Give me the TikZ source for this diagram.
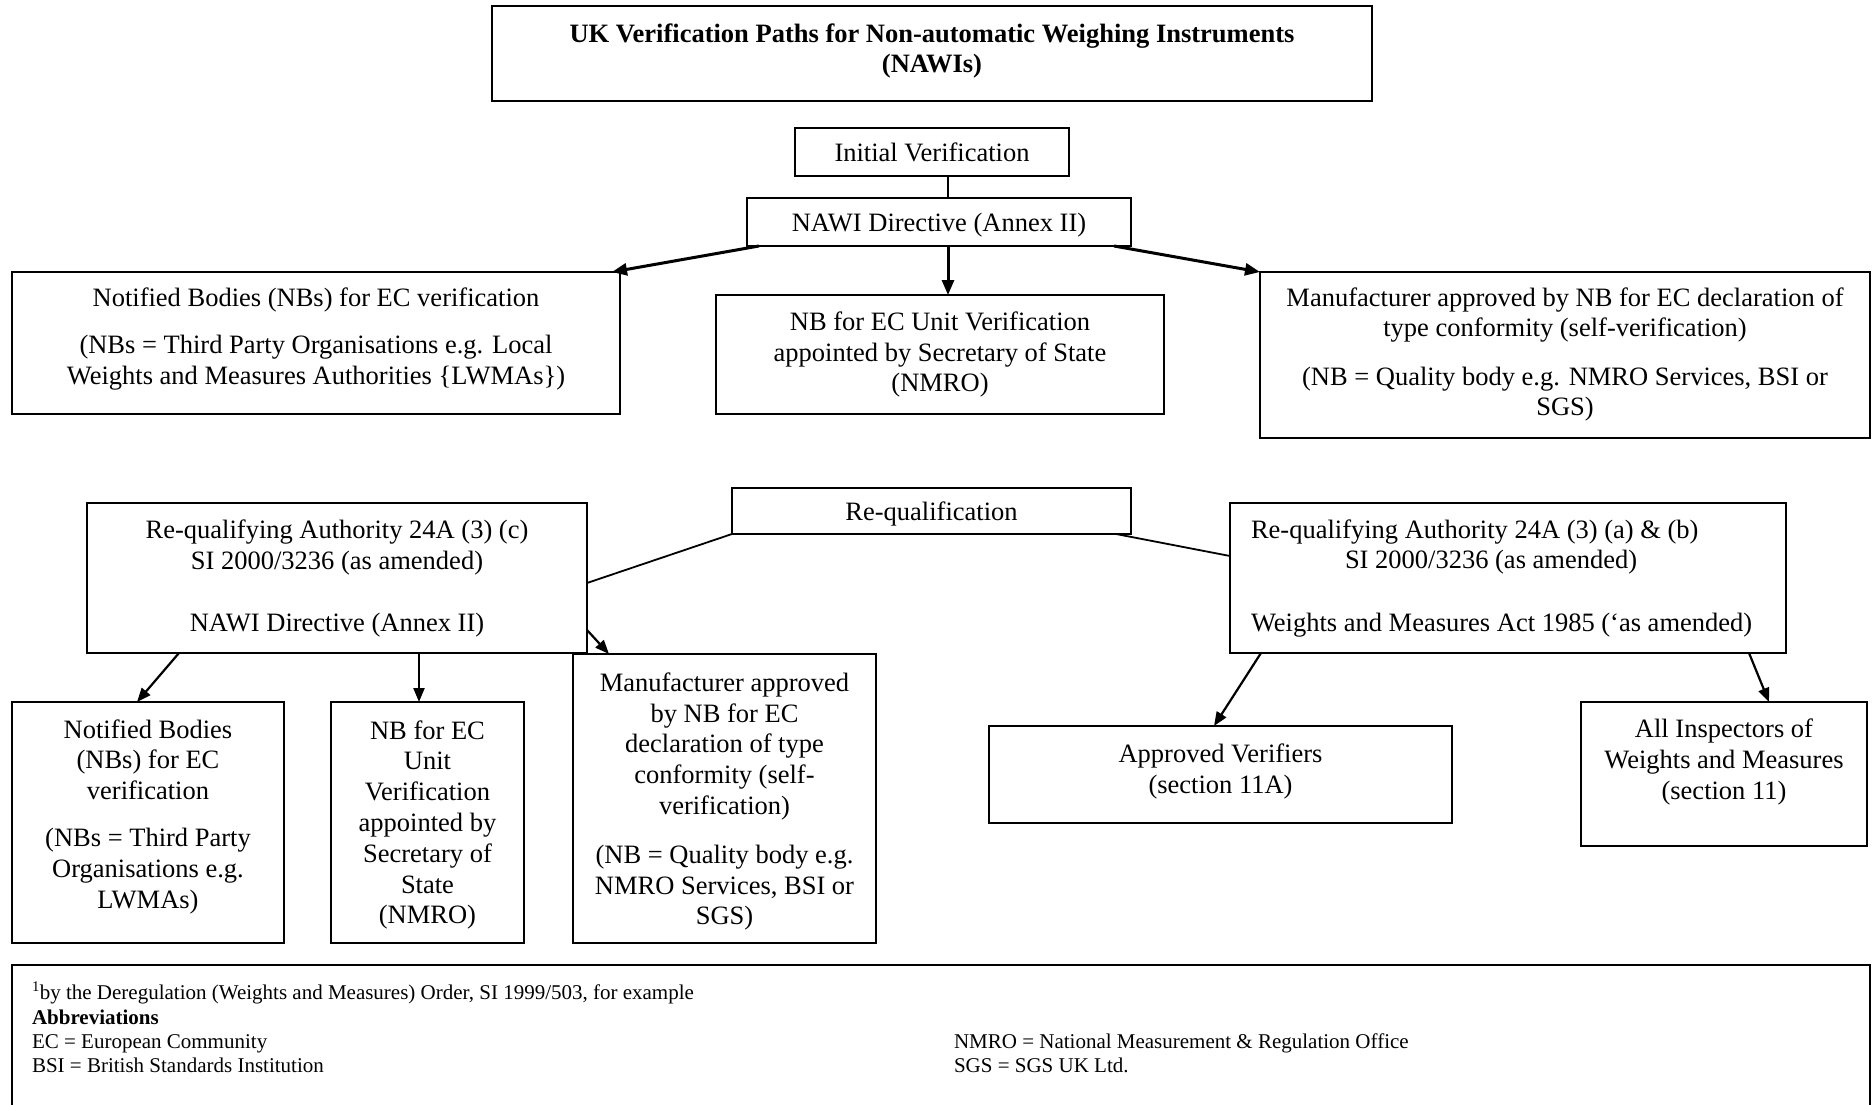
\documentclass[tikz,border=0pt]{standalone}
\usepackage{fontspec}
\setmainfont{Liberation Serif}
\usetikzlibrary{arrows.meta,calc}
\tikzset{
  box/.style={draw, line width=1.8pt, inner sep=0pt, outer sep=0pt},
  txt/.style={align=center, inner sep=0pt, outer sep=0pt, font=\fontsize{26.5}{30.8}\selectfont},
  onetxt/.style={txt, text height=18pt, text depth=0pt},
  ftxt/.style={anchor=base west, inner sep=0pt, outer sep=0pt, font=\fontsize{21}{24}\selectfont},
  arr/.style={-{Triangle[length=14pt,width=11pt]}, line width=2.2pt},
  thickarr/.style={-{Triangle[length=15pt,width=12pt]}, line width=3pt},
  ln/.style={line width=1.8pt}
}
\begin{document}
\begin{tikzpicture}[x=1pt,y=-1pt]
\useasboundingbox (0,0) rectangle (1872,1105);
% boxes
\node[box, minimum width=880, minimum height=95] (title) at (932,53.5) {};
\node[txt, font=\fontsize{26.5}{30}\selectfont\bfseries] (ttitle) at (932,51) {UK Verification Paths for Non-automatic Weighing Instruments\\(NAWIs)};
\node[box, onetxt, minimum width=274, minimum height=48] (init) at (932,152) {Initial Verification};
\node[box, onetxt, minimum width=384, minimum height=48] (nawi) at (939,222) {NAWI Directive (Annex II)};
\node[box, minimum width=608, minimum height=142] (nb1) at (316,343) {};
\node[txt] (tnb1) at (316,339) {Notified Bodies (NBs) for EC verification\\[16.5pt](NBs = Third Party Organisations e.g. Local\\Weights and Measures Authorities \{LWMAs\})};
\node[box, minimum width=448, minimum height=119] (nbu) at (940,354.5) {};
\node[txt] (tnbu) at (940,354.5) {NB for EC Unit Verification\\appointed by Secretary of State\\(NMRO)};
\node[box, minimum width=610, minimum height=166] (man) at (1565,355) {};
\node[txt] (tman) at (1565,354.5) {Manufacturer approved by NB for EC declaration of\\type conformity (self-verification)\\[17.5pt](NB = Quality body e.g. NMRO Services, BSI or\\SGS)};
\node[box, onetxt, minimum width=399, minimum height=46] (req) at (931.5,511) {Re-qualification};
\node[box, minimum width=500, minimum height=150] (rac) at (337,578) {};
\node[txt] (trac) at (337,578.5) {Re-qualifying Authority 24A (3) (c)\\SI 2000/3236 (as amended)\\[32pt]NAWI Directive (Annex II)};
\node[box, minimum width=556, minimum height=150] (rab) at (1508,578) {};
\node[txt, align=left, anchor=west] (trab) at (1251,578.5) {Re-qualifying Authority 24A (3) (a) \& (b)\\\hspace*{94pt}SI 2000/3236 (as amended)\\[32pt]Weights and Measures Act 1985 (‘as amended)};
\node[box, minimum width=272, minimum height=241] (nbl) at (148,822.5) {};
\node[txt] (tnbl) at (148,816.5) {Notified Bodies\\(NBs) for EC\\verification\\[16pt](NBs = Third Party\\Organisations e.g.\\LWMAs)};
\node[box, minimum width=193, minimum height=241] (nbul) at (427.5,822.5) {};
\node[txt] (tnbul) at (427.5,825) {NB for EC\\Unit\\Verification\\appointed by\\Secretary of\\State\\(NMRO)};
\node[box, minimum width=303, minimum height=289] (manl) at (724.5,798.5) {};
\node[txt] (tmanl) at (724.5,801.5) {Manufacturer approved\\by NB for EC\\declaration of type\\conformity (self-\\verification)\\[18pt](NB = Quality body e.g.\\NMRO Services, BSI or\\SGS)};
\node[box, minimum width=463, minimum height=97] (av) at (1220.5,774.5) {};
\node[txt] (tav) at (1220.5,771.5) {Approved Verifiers\\(section 11A)};
\node[box, minimum width=286, minimum height=144] (ai) at (1724,774) {};
\node[txt] (tai) at (1724,762) {All Inspectors of\\Weights and Measures\\(section 11)};
% footer
\node[box, minimum width=1858, minimum height=165] (foot) at (941,1047.5) {};
\node[ftxt] (f1) at (32,999) {\textsuperscript{1}by the Deregulation (Weights and Measures) Order, SI 1999/503, for example};
\node[ftxt, font=\fontsize{21}{24}\selectfont\bfseries] (f2) at (32,1024) {Abbreviations};
\node[ftxt] (f3) at (32,1048) {EC = European Community};
\node[ftxt] (f4) at (32,1072) {BSI = British Standards Institution};
\node[ftxt] (f5) at (954,1048) {NMRO = National Measurement \& Regulation Office};
\node[ftxt] (f6) at (954,1072) {SGS = SGS UK Ltd.};
% connectors
\draw[ln] ($(init.south)+(16,0)$) -- ($(nawi.north)+(9,0)$);
\draw[thickarr] ($(nawi.south west)+(12,0)$) -- ($(nb1.north east)+(-8,0)$);
\draw[thickarr] ($(nawi.south)+(9,0)$) -- ($(nbu.north)+(8,0)$);
\draw[thickarr] ($(nawi.south east)+(-17,0)$) -- (man.north west);
\draw[ln] (req.south west) -- ($(rac.east)+(0,5)$);
\draw[ln] ($(req.south east)+(-15,0)$) -- ($(rab.west)+(0,-22)$);
\draw[arr] ($(rac.south west)+(92,0)$) -- ($(nbl.north)+(-11,0)$);
\draw[arr] ($(rac.south west)+(332,0)$) -- ($(nbul.north)+(-8.5,0)$);
\draw[arr] ($(rac.south east)+(0,-23)$) -- ($(manl.north west)+(36,0)$);
\draw[arr] ($(rab.south west)+(31,0)$) -- ($(av.north west)+(225,0)$);
\draw[arr] ($(rab.south east)+(-37,0)$) -- ($(ai.north)+(45,0)$);
\end{tikzpicture}
\end{document}
